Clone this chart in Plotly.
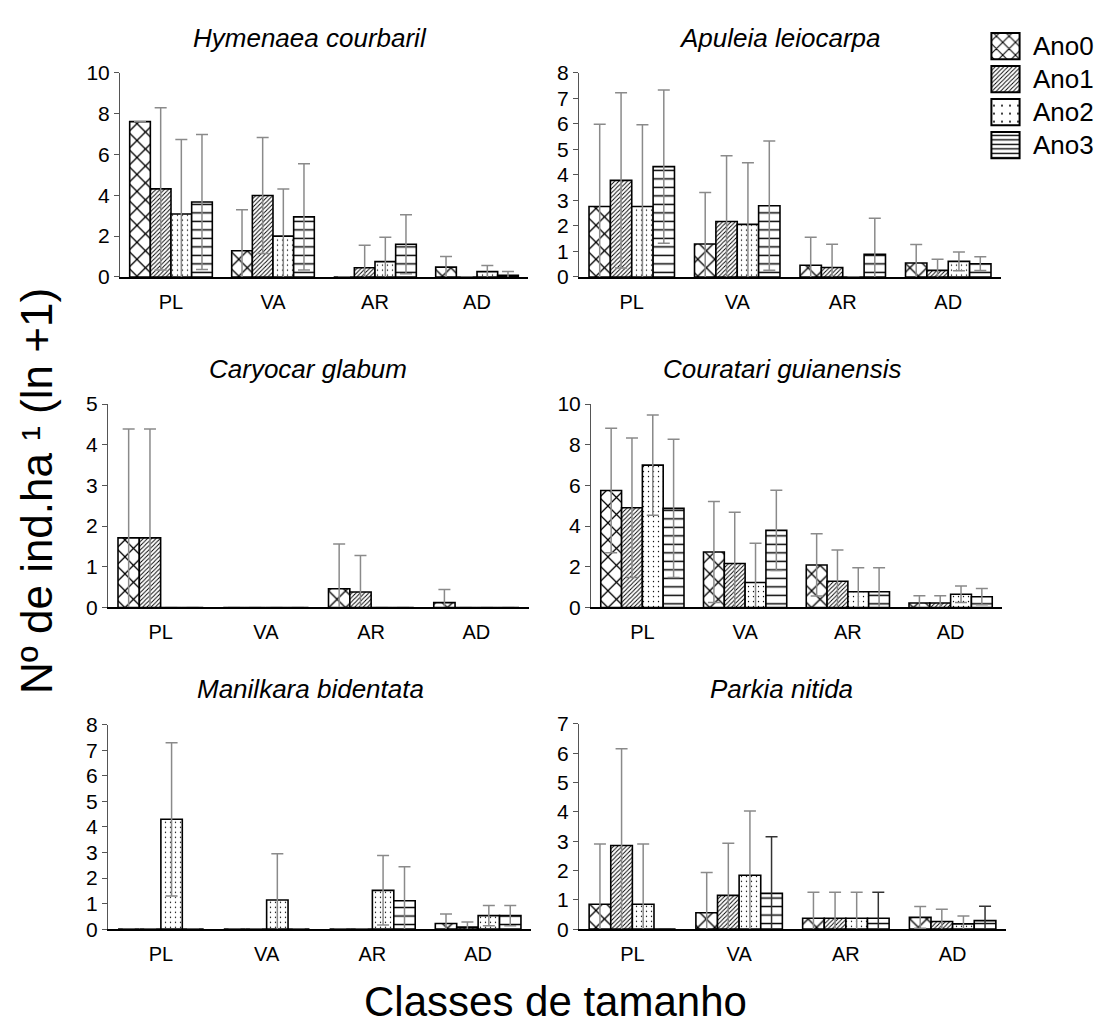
import plotly.graph_objects as go

W, H = 1101, 1035

classes = ["PL", "VA", "AR", "AD"]
anos = ["Ano0", "Ano1", "Ano2", "Ano3"]

# Means (ln +1) per year; each row is one year, columns follow `classes`
hymenaea_media = [
    [7.6, 1.28, 0.0, 0.48],
    [4.31, 3.99, 0.45, 0.0],
    [3.08, 2.0, 0.75, 0.26],
    [3.67, 2.94, 1.6, 0.08],
]
hymenaea_erro = [
    [0.0, 2.01, 0.0, 0.52],
    [3.97, 2.84, 1.1, 0.0],
    [3.65, 2.31, 1.2, 0.3],
    [3.3, 2.6, 1.44, 0.19],
]

apuleia_media = [
    [2.76, 1.29, 0.46, 0.55],
    [3.78, 2.17, 0.37, 0.26],
    [2.76, 2.06, 0.0, 0.61],
    [4.32, 2.79, 0.89, 0.52],
]
apuleia_erro = [
    [3.22, 2.02, 1.1, 0.72],
    [3.43, 2.58, 0.91, 0.43],
    [3.2, 2.41, 0.0, 0.37],
    [3.0, 2.53, 1.41, 0.27],
]

caryocar_media = [
    [1.71, 0.0, 0.46, 0.12],
    [1.71, 0.0, 0.38, 0.0],
    [0.0, 0.0, 0.0, 0.0],
    [0.0, 0.0, 0.0, 0.0],
]
caryocar_erro = [
    [2.68, 0.0, 1.1, 0.32],
    [2.68, 0.0, 0.9, 0.0],
    [0.0, 0.0, 0.0, 0.0],
    [0.0, 0.0, 0.0, 0.0],
]

couratari_media = [
    [5.75, 2.73, 2.09, 0.22],
    [4.9, 2.16, 1.29, 0.22],
    [7.0, 1.23, 0.77, 0.65],
    [4.87, 3.79, 0.77, 0.53],
]
couratari_erro = [
    [3.06, 2.48, 1.53, 0.36],
    [3.43, 2.52, 1.53, 0.36],
    [2.46, 1.93, 1.18, 0.4],
    [3.4, 1.97, 1.18, 0.4],
]

manilkara_media = [
    [0.0, 0.0, 0.0, 0.22],
    [0.0, 0.0, 0.0, 0.08],
    [4.3, 1.14, 1.52, 0.53],
    [0.0, 0.0, 1.11, 0.53],
]
manilkara_erro = [
    [0.0, 0.0, 0.0, 0.37],
    [0.0, 0.0, 0.0, 0.2],
    [3.0, 1.81, 1.36, 0.4],
    [0.0, 0.0, 1.33, 0.4],
]

parkia_media = [
    [0.85, 0.56, 0.37, 0.4],
    [2.85, 1.15, 0.37, 0.26],
    [0.85, 1.84, 0.37, 0.18],
    [0.0, 1.22, 0.37, 0.29],
]
parkia_erro = [
    [2.05, 1.37, 0.89, 0.37],
    [3.3, 1.78, 0.89, 0.42],
    [2.05, 2.19, 0.89, 0.27],
    [0.0, 1.93, 0.89, 0.49],
]

especies = [
    "Hymenaea courbaril", "Apuleia leiocarpa",
    "Caryocar glabum", "Couratari guianensis",
    "Manilkara bidentata", "Parkia nitida",
]
medias = [hymenaea_media, apuleia_media, caryocar_media,
          couratari_media, manilkara_media, parkia_media]
erros = [hymenaea_erro, apuleia_erro, caryocar_erro,
         couratari_erro, manilkara_erro, parkia_erro]
y_max = [10, 8, 5, 10, 8, 7]
y_passo = [2, 1, 1, 2, 1, 1]

# Plot-area boxes in pixels: (left, right, top, bottom)
caixas = [
    (120, 528, 62, 271), (579, 1001, 62, 271),
    (108, 529, 401, 609), (591, 1002, 401, 609),
    (108, 531, 729, 938), (579, 1006, 728, 938),
]
# Title centres in pixels
titulos_pos = [(310, 27), (779, 27), (308, 365), (782, 365), (310, 692), (781, 692)]

# Hatch style for each year
padroes = [
    dict(shape="x", size=12, solidity=0.2),
    dict(shape="/", size=3, solidity=0.3),
    dict(shape=".", size=5, solidity=0.06),
    dict(shape="-", size=8.5, solidity=0.17),
]

FONT = "Liberation Sans, Arial, Helvetica, sans-serif"


def px_x(v):
    return v / W


def px_y(v):
    return 1 - v / H


fig = go.Figure()
layout = dict(
    width=W, height=H,
    margin=dict(l=0, r=0, t=0, b=0),
    paper_bgcolor="white", plot_bgcolor="white",
    barmode="group", bargap=0.19, bargroupgap=0.0,
    showlegend=False,
    font=dict(family=FONT, color="black"),
)

anotacoes = []
for i in range(6):
    n = i + 1
    xa = "x" if n == 1 else f"x{n}"
    ya = "y" if n == 1 else f"y{n}"
    for k in range(4):
        cor_erro = "#333333" if (i == 5 and k == 3) else "#8a8a8a"
        fig.add_trace(go.Bar(
            x=classes, y=medias[i][k], name=anos[k],
            xaxis=xa, yaxis=ya,
            marker=dict(
                color="white",
                line=dict(color="black", width=1.6),
                pattern=dict(fgcolor="black", bgcolor="white",
                             fillmode="replace", **padroes[k]),
            ),
            error_y=dict(type="data", array=erros[i][k], symmetric=True,
                         color=cor_erro, thickness=1.5, width=6),
        ))
    l, r, t, b = caixas[i]
    layout["xaxis" if n == 1 else f"xaxis{n}"] = dict(
        domain=[px_x(l), px_x(r)], anchor=ya,
        type="category", categoryorder="array", categoryarray=classes,
        range=[-0.5, 3.5],
        showline=True, linecolor="black", linewidth=2,
        ticks="", showgrid=False, zeroline=False,
        tickfont=dict(size=20, family=FONT), ticklabelstandoff=6,
    )
    layout["yaxis" if n == 1 else f"yaxis{n}"] = dict(
        domain=[px_y(b), px_y(t)], anchor=xa,
        range=[0, y_max[i]], dtick=y_passo[i], tick0=0,
        showline=True, linecolor="#555555", linewidth=1,
        ticks="outside", ticklen=5, tickwidth=1, tickcolor="#555555",
        showgrid=False, zeroline=False,
        tickfont=dict(size=21, family=FONT),
    )
    tx, ty = titulos_pos[i]
    anotacoes.append(dict(
        text=f"<i>{especies[i]}</i>", x=px_x(tx), y=px_y(ty),
        xref="paper", yref="paper", xanchor="center", yanchor="middle",
        showarrow=False, font=dict(size=26, family=FONT),
    ))

# Key: patterned swatches in a small dedicated subplot
fig.add_trace(go.Bar(
    x=[1, 1, 1, 1], y=anos, orientation="h",
    xaxis="x7", yaxis="y7",
    marker=dict(
        color="white",
        line=dict(color="black", width=2),
        pattern=dict(
            fgcolor="black", bgcolor="white", fillmode="replace",
            shape=[p["shape"] for p in padroes],
            size=[9, 3, 8, 4.5],
            solidity=[0.22, 0.3, 0.05, 0.3],
        ),
    ),
    width=0.8,
))
layout["xaxis7"] = dict(domain=[px_x(990), px_x(1021)], anchor="y7",
                        range=[-0.05, 1.05], visible=False)
layout["yaxis7"] = dict(domain=[px_y(153), px_y(18)], anchor="x7",
                        type="category", categoryarray=anos, categoryorder="array",
                        autorange="reversed", visible=False)
for k, nome in enumerate(anos):
    anotacoes.append(dict(
        text=nome, x=px_x(1031), y=px_y(35 + 33.7 * k),
        xref="paper", yref="paper", xanchor="left", yanchor="middle",
        showarrow=False, font=dict(size=26, family=FONT),
    ))

# Shared axis titles
anotacoes.append(dict(
    text="Nº de ind.ha ¹ (ln +1)", x=px_x(36), y=px_y(490),
    xref="paper", yref="paper", xanchor="center", yanchor="middle",
    textangle=-90, showarrow=False, font=dict(size=44, family=FONT),
))
anotacoes.append(dict(
    text="Classes de tamanho", x=px_x(555), y=px_y(1012),
    xref="paper", yref="paper", xanchor="center", yanchor="middle",
    showarrow=False, font=dict(size=42, family=FONT),
))

layout["annotations"] = anotacoes
fig.update_layout(**layout)
fig.write_html("out.html")
